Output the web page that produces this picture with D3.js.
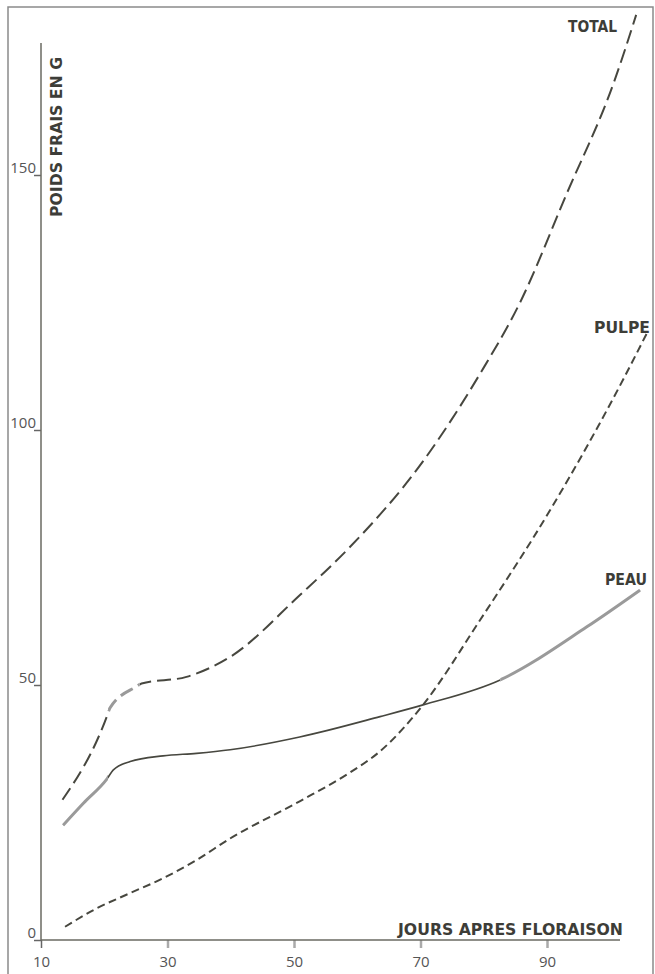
<!DOCTYPE html>
<html>
<head>
<meta charset="utf-8">
<script src="https://cdn.jsdelivr.net/npm/d3@7/dist/d3.min.js"></script>
<style>
  body { margin: 0; background: #fff; }
  svg { display: block; }
</style>
</head>
<body>
<svg id="chart" width="655" height="974"></svg>
<script>
// values (days after flowering, fresh weight in g)
var dayTotal = [13.4, 20.4, 20.9, 25.1, 25.9, 33, 39.9, 50.9, 58.8, 70.3, 79.4, 85.7, 93, 100.7, 104.1];
var total    = [27.5, 43.8, 45.5, 49.7, 50.3, 51.6, 55.5, 67.6, 77, 93.7, 111, 124.9, 146, 168.6, 181.4];

var dayPulpe = [13.8, 18.8, 24.1, 29.3, 34.6, 39.9, 50.9, 58.8, 63.6, 70.4, 79.4, 90.5, 102, 105.8];
var pulpe    = [2.6, 6.2, 9.2, 12.1, 15.7, 19.9, 27.2, 32.8, 37, 46.1, 62.7, 84.3, 109.8, 119];

var dayPeau  = [13.5, 16.7, 20.5, 21.4, 24.1, 29.3, 34.6, 39.9, 50.9, 63.6, 70.4, 82.6, 96.3, 104.7];
var peau     = [22.5, 26.8, 31.7, 33.3, 35, 36.1, 36.6, 37.3, 39.8, 43.8, 46.1, 51, 61.4, 68.6];

var xTicks = [10, 30, 50, 70, 90];
var yTicks = [0, 50, 100, 150];

var seriesNames = ["TOTAL", "PULPE", "PEAU"];
var xTitle = "JOURS APRES FLORAISON";
var yTitle = "POIDS FRAIS EN G";

/////////////////////////////////////////////////
var svg = d3.select("#chart");
var ink = "#47473f";
var bold = "'DejaVu Sans Condensed','Liberation Sans Narrow','Liberation Sans',sans-serif";

var x = d3.scaleLinear().domain([10, 90]).range([41, 547]);
var y = d3.scaleLinear().domain([0, 150]).range([940, 175]);

// frame of the scanned page
svg.append("rect")
  .attr("x", 8).attr("y", 7)
  .attr("width", 645).attr("height", 980)
  .attr("fill", "none")
  .attr("stroke", "#8a8a8a")
  .attr("stroke-width", 1.5);

// x axis
var gx = svg.append("g")
  .attr("transform", "translate(0," + y(0) + ")")
  .call(d3.axisBottom(x).tickValues(xTicks).tickSize(8).tickFormat(d3.format("d")));
gx.select(".domain").remove();
gx.selectAll(".tick line")
  .attr("stroke", function(d) { return d == 10 ? "#666" : "#aaa"; })
  .attr("stroke-width", function(d) { return d == 10 ? 1.5 : 2.5; });
gx.selectAll(".tick text")
  .attr("y", 27).attr("dy", 0)
  .attr("fill", "#555")
  .style("font", "15px 'Open Sans',sans-serif");
svg.append("line")
  .attr("x1", x(10)).attr("x2", 620)
  .attr("y1", y(0)).attr("y2", y(0))
  .attr("stroke", "#6a6a62").attr("stroke-width", 1.5);

// y axis
var gy = svg.append("g")
  .attr("transform", "translate(" + x(10) + ",0)")
  .call(d3.axisLeft(y).tickValues(yTicks).tickSize(7).tickFormat(d3.format("d")));
gy.select(".domain").remove();
gy.selectAll(".tick line").attr("stroke", "#666").attr("stroke-width", 1.5);
gy.selectAll(".tick text")
  .attr("x", -5).attr("y", -3).attr("dy", 0)
  .attr("fill", "#555")
  .style("font", "15px 'Open Sans',sans-serif");
svg.append("line")
  .attr("x1", x(10)).attr("x2", x(10))
  .attr("y1", 43).attr("y2", y(0))
  .attr("stroke", "#6a6a62").attr("stroke-width", 1.5);

// axis titles
svg.append("text")
  .attr("x", 398).attr("y", 935)
  .attr("textLength", 225).attr("lengthAdjust", "spacingAndGlyphs")
  .attr("fill", "#3d3d38")
  .style("font", "bold 16px " + bold)
  .text(xTitle);
svg.append("text")
  .attr("transform", "translate(62,217) rotate(-90)")
  .attr("textLength", 160).attr("lengthAdjust", "spacingAndGlyphs")
  .attr("fill", "#3d3d38")
  .style("font", "bold 16px " + bold)
  .text(yTitle);

// curves
var line = d3.line()
  .x(function(d) { return x(d[0]); })
  .y(function(d) { return y(d[1]); })
  .curve(d3.curveMonotoneX);

var curves = [
  { name: "TOTAL", pts: d3.zip(dayTotal, total), dash: "14,6", width: 2, grey: [[20.6, 25.6]] },
  { name: "PULPE", pts: d3.zip(dayPulpe, pulpe), dash: "8,4.5", width: 2, grey: [] },
  { name: "PEAU",  pts: d3.zip(dayPeau, peau),   dash: null,   width: 1.6, grey: [[13, 20.6], [82.6, 110]] }
];

curves.forEach(function(c, i) {
  svg.append("path")
    .attr("d", line(c.pts))
    .attr("fill", "none")
    .attr("stroke", ink)
    .attr("stroke-width", c.width)
    .attr("stroke-dasharray", c.dash);

  // washed out stretches of the scan
  c.grey.forEach(function(r, j) {
    var id = "clip" + i + "_" + j;
    svg.append("clipPath").attr("id", id)
      .append("rect")
        .attr("x", x(r[0])).attr("width", x(r[1]) - x(r[0]))
        .attr("y", 0).attr("height", 974);
    svg.append("path")
      .attr("d", line(c.pts))
      .attr("clip-path", "url(#" + id + ")")
      .attr("fill", "none")
      .attr("stroke", "#fff")
      .attr("stroke-width", 4);
    svg.append("path")
      .attr("d", line(c.pts))
      .attr("clip-path", "url(#" + id + ")")
      .attr("fill", "none")
      .attr("stroke", "#9a9a9a")
      .attr("stroke-width", 3)
      .attr("stroke-dasharray", c.dash);
  });
});

// curve labels
var labelPos = [
  { x: 568, y: 32, w: 49 },
  { x: 594, y: 333, w: 56 },
  { x: 605, y: 585, w: 42 }
];
seriesNames.forEach(function(n, i) {
  svg.append("text")
    .attr("x", labelPos[i].x).attr("y", labelPos[i].y)
    .attr("textLength", labelPos[i].w).attr("lengthAdjust", "spacingAndGlyphs")
    .attr("fill", "#3d3d38")
    .style("font", "bold 15px " + bold)
    .text(n);
});
</script>
</body>
</html>
